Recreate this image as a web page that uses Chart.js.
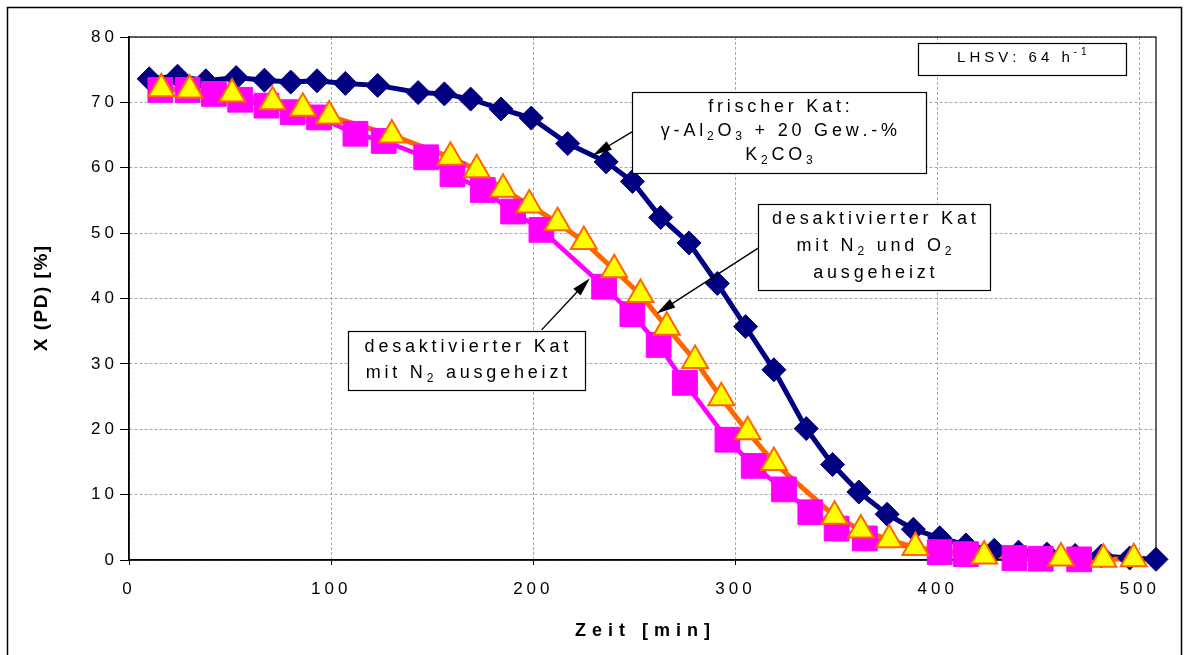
<!DOCTYPE html>
<html>
<head>
<meta charset="utf-8">
<script src="https://cdn.jsdelivr.net/npm/chart.js@4/dist/chart.umd.min.js"></script>
<style>
	html, body { margin: 0; padding: 0; background: #fff; }
	#wrap { width: 1189px; height: 655px; position: relative; }
</style>
</head>
<body>
<div id="wrap"><canvas id="chart"></canvas></div>
<script>
// Zeit [min] / X (PD) [%] per Katalysator
const FRISCH_T = [10, 24, 38, 53, 67, 80, 93, 107, 123, 143, 156, 169, 184, 199, 217, 236, 249, 263, 277, 291, 305, 319, 335, 348, 361, 375, 388, 401, 414, 428, 440, 454, 468, 481, 495, 508];
const FRISCH_X = [73.6, 74.0, 73.3, 73.8, 73.4, 73.1, 73.3, 72.9, 72.6, 71.5, 71.3, 70.5, 69.0, 67.6, 63.7, 60.9, 57.9, 52.4, 48.5, 42.3, 35.7, 29.1, 20.1, 14.6, 10.4, 7.0, 4.7, 3.4, 2.3, 1.5, 1.2, 0.9, 0.7, 0.6, 0.3, 0.1];
const N2_T = [15.5, 29, 42, 55, 68, 81, 94, 112, 126, 147, 160, 175, 190, 204, 235, 249, 262, 275, 296, 309, 324, 337, 350, 364, 401, 414, 438, 451, 470];
const N2_X = [71.9, 71.9, 71.3, 70.4, 69.5, 68.5, 67.7, 65.2, 64.1, 61.6, 59.0, 56.6, 53.3, 50.5, 41.8, 37.6, 32.9, 27.1, 18.4, 14.4, 10.8, 7.3, 4.8, 3.3, 1.2, 0.9, 0.3, 0.2, 0.1];
const N2O2_T = [16, 30, 51, 71, 86, 99, 130, 159, 172, 185, 198, 212, 225, 240, 253, 266, 280, 293, 306, 319, 349, 362, 376, 389, 423, 461, 482, 497];
const N2O2_X = [72.1, 71.9, 71.3, 70.1, 69.1, 67.9, 65.0, 61.6, 59.7, 56.7, 54.3, 51.6, 48.7, 44.4, 40.6, 35.6, 30.5, 24.8, 19.6, 14.9, 6.7, 4.6, 3.1, 1.9, 0.6, 0.3, 0.1, 0.2];
const X_TICKS = [0, 100, 200, 300, 400, 500];
const Y_TICKS = [0, 10, 20, 30, 40, 50, 60, 70, 80];
const X_MAX = 508;

const FONT = '"Liberation Sans", Arial, sans-serif';
const NAVY = "#000080";
const MAGENTA = "#ff00ff";
const ORANGE = "#ff6600";
const YELLOW = "#ffff00";

// text boxes: box in data units [x1, x2, yTop, yBottom]
const NOTES = [
	{ box: [390.2, 493.1, 79.1, 74.2], size: 15, gap: 4, lineH: 0,
		lines: [[["LHSV: 64 h"], ["-1", "sup"]]] },
	{ box: [248.8, 394.2, 71.6, 59.2], size: 18, gap: 3.8, lineH: 24,
		lines: [
			[["frischer Kat:"]],
			[["γ-Al"], ["2", "sub"], ["O"], ["3", "sub"], [" + 20 Gew.-%"]],
			[["K"], ["2", "sub"], ["CO"], ["3", "sub"]],
		] },
	{ box: [311.1, 425.8, 54.5, 41.3], size: 18, gap: 3.8, lineH: 27,
		lines: [
			[["desaktivierter Kat"]],
			[["mit N"], ["2", "sub"], [" und O"], ["2", "sub"]],
			[["ausgeheizt"]],
		] },
	{ box: [108.3, 225.5, 35.0, 25.9], size: 18, gap: 3.8, lineH: 26,
		lines: [
			[["desaktivierter Kat"]],
			[["mit N"], ["2", "sub"], [" ausgeheizt"]],
		] },
];
// arrows: from [x, y] to tip [x, y], data units
const ARROWS = [
	[248.8, 65.5, 229.5, 61.9],
	[311.2, 47.7, 261.0, 37.7],
	[204.1, 35.2, 228.0, 43.1],
];

const toPoints = (ts, xs) => ts.map((t, i) => ({ x: t, y: xs[i] }));

const drawRich = (ctx, segs, cx, cy, size, gap, weight) => {
	var parts = [];
	segs.forEach(([txt, kind]) => {
		var fs = kind ? Math.round(size * 0.68) : size;
		var dy = kind === "sub" ? size * 0.3 : kind === "sup" ? -size * 0.4 : 0;
		for (const ch of txt) parts.push({ ch: ch, fs: fs, dy: dy });
	});
	var w = 0;
	parts.forEach((p) => {
		ctx.font = `${weight || "normal"} ${p.fs}px ${FONT}`;
		p.w = ctx.measureText(p.ch).width;
		w += p.w + gap;
	});
	w -= gap;
	var x = cx - w / 2;
	parts.forEach((p) => {
		ctx.font = `${weight || "normal"} ${p.fs}px ${FONT}`;
		ctx.fillText(p.ch, x, cy + p.dy);
		x += p.w + gap;
	});
};

const drawArrow = (ctx, x1, y1, x2, y2) => {
	var a = Math.atan2(y2 - y1, x2 - x1);
	var len = 19, half = 5;
	ctx.beginPath();
	ctx.moveTo(x1, y1);
	ctx.lineTo(x2 - Math.cos(a) * len * 0.8, y2 - Math.sin(a) * len * 0.8);
	ctx.stroke();
	ctx.beginPath();
	ctx.moveTo(x2, y2);
	ctx.lineTo(x2 - len * Math.cos(a) + half * Math.sin(a), y2 - len * Math.sin(a) - half * Math.cos(a));
	ctx.lineTo(x2 - len * Math.cos(a) - half * Math.sin(a), y2 - len * Math.sin(a) + half * Math.cos(a));
	ctx.closePath();
	ctx.fill();
};

const decorPlugin = {
	id: "decor",
	beforeDraw: (chart) => {
		var ctx = chart.ctx;
		ctx.save();
		ctx.fillStyle = "#fff";
		ctx.fillRect(0, 0, chart.width, chart.height);
		ctx.strokeStyle = "#000";
		ctx.lineWidth = 1.5;
		ctx.strokeRect(7.5, 7.5, 1174, 700);
		ctx.restore();
		ctx.letterSpacing = "4px";
	},
	beforeDatasetsDraw: (chart) => {
		var ctx = chart.ctx, a = chart.chartArea;
		ctx.save();
		ctx.strokeStyle = "#000";
		ctx.lineWidth = 1.2;
		ctx.strokeRect(a.left, a.top, a.right - a.left, a.bottom - a.top);
		ctx.restore();
	},
	afterDraw: (chart) => {
		var ctx = chart.ctx, a = chart.chartArea;
		var sx = chart.scales.x, sy = chart.scales.y;
		ctx.save();
		ctx.letterSpacing = "0px";
		ctx.fillStyle = "#000";
		ctx.strokeStyle = "#000";
		ctx.lineWidth = 1.4;
		ARROWS.forEach(([x1, y1, x2, y2]) => {
			drawArrow(ctx, sx.getPixelForValue(x1), sy.getPixelForValue(y1),
				sx.getPixelForValue(x2), sy.getPixelForValue(y2));
		});
		ctx.textAlign = "left";
		ctx.textBaseline = "middle";
		NOTES.forEach((n) => {
			var l = sx.getPixelForValue(n.box[0]), r = sx.getPixelForValue(n.box[1]);
			var t = sy.getPixelForValue(n.box[2]), b = sy.getPixelForValue(n.box[3]);
			ctx.fillStyle = "#fff";
			ctx.fillRect(l, t, r - l, b - t);
			ctx.lineWidth = 1.2;
			ctx.strokeRect(Math.round(l) + 0.5, Math.round(t) + 0.5, Math.round(r - l), Math.round(b - t));
			ctx.fillStyle = "#000";
			var cy = (t + b) / 2 - 1;
			n.lines.forEach((segs, i) => {
				drawRich(ctx, segs, (l + r) / 2, cy + (i - (n.lines.length - 1) / 2) * n.lineH, n.size, n.gap);
			});
		});
		// axis titles
		drawRich(ctx, [["Zeit [min]"]], (a.left + a.right) / 2, 631, 18, 6, "bold");
		ctx.translate(42, (a.top + a.bottom) / 2);
		ctx.rotate(-Math.PI / 2);
		drawRich(ctx, [["X (PD) [%]"]], 0, 0, 19, 1.5, "bold");
		ctx.restore();
	},
};

const lineSet = (data, color, width, order) => ({
	data: data,
	borderColor: color,
	borderWidth: width,
	pointRadius: 0,
	fill: false,
	tension: 0,
	clip: false,
	order: order,
});
const markerSet = (data, style, radius, fillColor, edgeColor, edgeWidth, order) => ({
	data: data,
	showLine: false,
	pointStyle: style,
	pointRadius: radius,
	pointBackgroundColor: fillColor,
	pointBorderColor: edgeColor,
	pointBorderWidth: edgeWidth,
	clip: false,
	order: order,
});

const frisch = toPoints(FRISCH_T, FRISCH_X);
const n2 = toPoints(N2_T, N2_X);
const n2o2 = toPoints(N2O2_T, N2O2_X);

const gridStyle = (tickLength) => ({
	color: "#a8a8a8",
	lineWidth: 1,
	tickLength: tickLength,
	tickColor: "#000",
	tickWidth: 1,
	tickBorderDash: [],
});

new Chart(document.getElementById("chart"), {
	type: "line",
	data: {
		datasets: [
			lineSet(frisch, NAVY, 5, 6),
			lineSet(n2, MAGENTA, 4.5, 5),
			lineSet(n2o2, ORANGE, 5, 4),
			markerSet(frisch, "rectRot", 12, NAVY, NAVY, 1, 3),
			markerSet(n2, "rect", 17.5, MAGENTA, MAGENTA, 1, 2),
			markerSet(n2o2, "triangle", 15, YELLOW, ORANGE, 2, 1),
		],
	},
	plugins: [decorPlugin],
	options: {
		responsive: true,
		maintainAspectRatio: false,
		animation: false,
		events: [],
		layout: { padding: { left: 8, right: 33, top: 37, bottom: 0 } },
		plugins: {
			legend: { display: false },
			tooltip: { enabled: false },
		},
		scales: {
			x: {
				type: "linear",
				min: 0,
				max: X_MAX,
				afterBuildTicks: (s) => { s.ticks = X_TICKS.map((v) => ({ value: v })); },
				afterFit: (s) => { s.height = 95; },
				grid: gridStyle(5),
				border: { display: true, color: "#000", width: 1.5, dash: [3, 2] },
				ticks: {
					color: "#000",
					font: { family: FONT, size: 17 },
					padding: 14,
					maxRotation: 0,
					autoSkip: false,
				},
			},
			y: {
				type: "linear",
				min: 0,
				max: 80,
				afterBuildTicks: (s) => { s.ticks = Y_TICKS.map((v) => ({ value: v })); },
				afterFit: (s) => { s.width = 121; },
				grid: gridStyle(9),
				border: { display: true, color: "#000", width: 1.5, dash: [3, 2] },
				ticks: {
					color: "#000",
					font: { family: FONT, size: 17 },
					padding: 2,
					autoSkip: false,
				},
			},
		},
	},
});
</script>
</body>
</html>
